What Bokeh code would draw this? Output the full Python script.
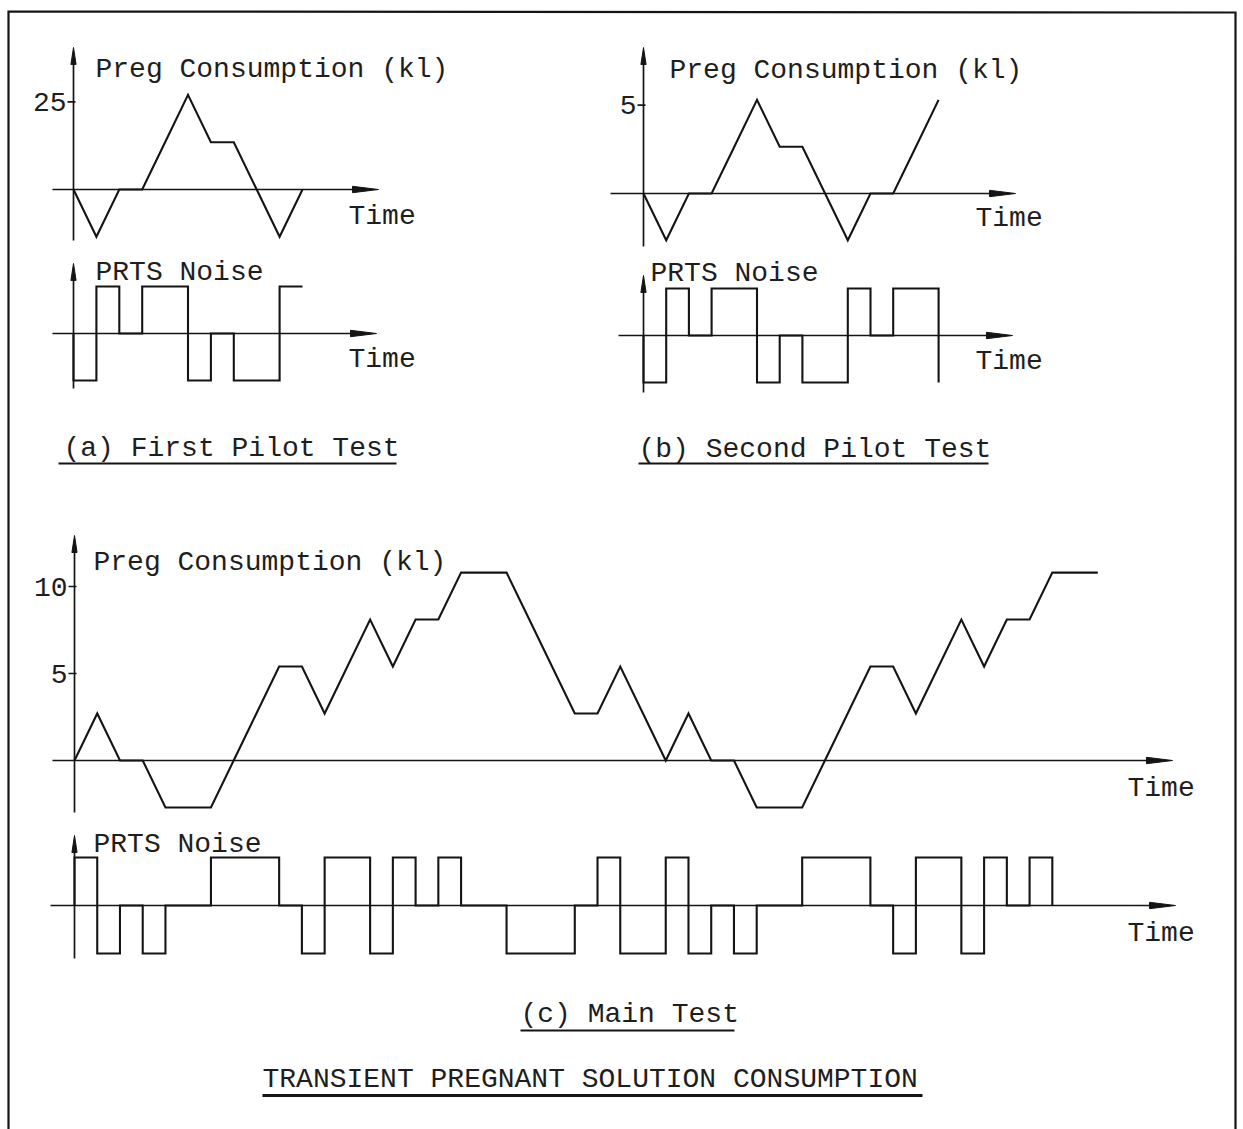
from bokeh.plotting import figure
from bokeh.models import Range1d
from bokeh.core.properties import value
from bokeh.embed import file_html
from bokeh.resources import INLINE

# ---------------------------------------------------------------------------
# Test signals: PRTS noise levels per bit and the resulting pregnant solution
# consumption (kl) at each bit boundary.
# ---------------------------------------------------------------------------

# (a) First pilot test
a_prts = [-1, 1, 0, 1, 1, -1, 0, -1, -1, 1]
a_preg = [0, -13.5, 0, 0, 13.5, 27, 13.5, 13.5, 0, -13.5, 0]
a_ticks = [25]

# (b) Second pilot test (the 14th bit is only begun: its falling edge is shown)
b_prts = [-1, 1, 0, 1, 1, -1, 0, -1, -1, 1, 0, 1, 1, -1]
b_bits_shown = 13
b_preg = [0, -2.65, 0, 0, 2.65, 5.3, 2.65, 2.65, 0, -2.65, 0, 0, 2.65, 5.3]
b_ticks = [5]

# (c) Main test
c_prts = [1, -1, 0, -1, 0, 0, 1, 1, 1, 0, -1, 1, 1,
          -1, 1, 0, 1, 0, 0, -1, -1, -1, 0, 1, -1, -1,
          1, -1, 0, -1, 0, 0, 1, 1, 1, 0, -1, 1, 1, -1, 1, 0, 1, 0]
c_bits_shown = 43
c_preg = [0, 2.7, 0, 0, -2.7, -2.7, -2.7, 0, 2.7, 5.4, 5.4, 2.7, 5.4, 8.1,
          5.4, 8.1, 8.1, 10.8, 10.8, 10.8, 8.1, 5.4, 2.7, 2.7, 5.4, 2.7, 0,
          2.7, 0, 0, -2.7, -2.7, -2.7, 0, 2.7, 5.4, 5.4, 2.7, 5.4, 8.1, 5.4,
          8.1, 8.1, 10.8, 10.8, 10.8]
c_ticks = [5, 10]

# ---------------------------------------------------------------------------
W, H = 1243, 1129
FONT = value("Liberation Mono")
FSIZE = "28px"
INK = "#141414"
TXT = "#1e1e1e"

p = figure(width=W, height=H, x_range=Range1d(0, W), y_range=Range1d(H, 0),
           x_axis_type=None, y_axis_type=None, output_backend="svg",
           toolbar_location=None, min_border=0)
p.grid.visible = False
p.outline_line_color = None
p.background_fill_color = "white"
p.border_fill_color = "white"

xr, yr = {}, {}


def panel(name, ox, oy, sx, sy):
    """Register ranges so that (0, 0) of the panel lands at page pixel (ox, oy),
    with sx pixels per bit and sy pixels per unit upward."""
    xr[name] = Range1d(-ox / sx, (W - ox) / sx)
    yr[name] = Range1d(-(H - oy) / sy, oy / sy)
    return dict(x_range_name=name, y_range_name=name)


def axes(ox, oy, x_lo, x_hi, y_lo, y_hi):
    # time axis with a dart-shaped head
    p.line([x_lo, x_hi - 18], [oy, oy], line_width=1.7, color=INK)
    p.patch([x_hi, x_hi - 26, x_hi - 26], [oy, oy - 3.2, oy + 3.2],
            color=INK, line_width=1)
    # value axis with a slim head
    p.line([ox, ox], [y_lo, y_hi + 10], line_width=1.7, color=INK)
    p.patch([ox, ox - 2.6, ox + 2.6], [y_hi, y_hi + 17, y_hi + 17],
            color=INK, line_width=1)


def step_path(levels, shown):
    xs, ys = [0], [0]
    for i, lv in enumerate(levels[:shown]):
        xs += [i, i + 1]
        ys += [lv, lv]
    if len(levels) > shown:
        xs.append(shown)
        ys.append(levels[shown])
    return xs, ys


def ticks(rng, tick_vals, sx):
    p.segment(x0=[-6 / sx] * len(tick_vals), x1=[2 / sx] * len(tick_vals),
              y0=tick_vals, y1=tick_vals, line_width=1.7, color=INK, **rng)
    p.text(x=[0] * len(tick_vals), y=tick_vals, text=[str(t) for t in tick_vals],
           x_offset=-7, text_align="right", text_baseline="middle",
           text_font=FONT, text_font_size=FSIZE, text_color=TXT, **rng)


def label(x, y, s, align="left", size=FSIZE):
    # y is the wanted baseline in page pixels
    p.text(x=[x], y=[y - 8], text=[s], text_align=align,
           text_baseline="alphabetic", text_font=FONT, text_font_size=size,
           text_color=TXT)


def underline(x0, x1, y, w=2.0):
    p.line([x0, x1], [y, y], line_width=w, color=INK)


LW = 2.1

# ---------------- (a) First pilot test ----------------
bw_a = 22.9
ra_top = panel("a_top", 73, 189, bw_a, 3.504)
axes(73, 189, 52, 378, 240, 47)
p.line(list(range(len(a_preg))), a_preg, line_width=LW, color=INK,
       line_join="miter", **ra_top)
ticks(ra_top, a_ticks, bw_a)
label(95, 77, "Preg Consumption (kl)")
label(348, 224, "Time")

ra_bot = panel("a_bot", 73, 333, bw_a, 47)
axes(73, 333, 52, 376, 388, 263)
xs, ys = step_path(a_prts, len(a_prts))
p.line(xs, ys, line_width=LW, color=INK, line_join="miter", **ra_bot)
label(95, 280, "PRTS Noise")
label(348, 367, "Time")
label(63, 456, "(a) First Pilot Test")
underline(58, 396, 463)

# ---------------- (b) Second pilot test ----------------
bw_b = 22.7
rb_top = panel("b_top", 643, 193, bw_b, 17.66)
axes(643, 193, 610, 1015, 246, 47)
p.line(list(range(len(b_preg))), b_preg, line_width=LW, color=INK,
       line_join="miter", **rb_top)
ticks(rb_top, b_ticks, bw_b)
label(669, 78, "Preg Consumption (kl)")
label(975, 226, "Time")

rb_bot = panel("b_bot", 643, 335, bw_b, 47)
axes(643, 335, 618, 1012, 392, 275)
xs, ys = step_path(b_prts, b_bits_shown)
p.line(xs, ys, line_width=LW, color=INK, line_join="miter", **rb_bot)
label(650, 281, "PRTS Noise")
label(975, 369, "Time")
label(638, 457, "(b) Second Pilot Test")
underline(638, 988, 463)

# ---------------- (c) Main test ----------------
bw_c = 22.74
rc_top = panel("c_top", 74, 760, bw_c, 17.4)
axes(74, 760, 52, 1172, 812, 535)
p.line(list(range(len(c_preg))), c_preg, line_width=LW, color=INK,
       line_join="miter", **rc_top)
ticks(rc_top, c_ticks, bw_c)
label(93, 570, "Preg Consumption (kl)")
label(1127, 796, "Time")

rc_bot = panel("c_bot", 74, 905, bw_c, 48)
axes(74, 905, 50, 1175, 958, 835)
xs, ys = step_path(c_prts, c_bits_shown)
p.line(xs, ys, line_width=LW, color=INK, line_join="miter", **rc_bot)
label(93, 852, "PRTS Noise")
label(1127, 941, "Time")
label(520, 1022, "(c) Main Test")
underline(520, 734, 1030)

label(262, 1087, "TRANSIENT PREGNANT SOLUTION CONSUMPTION")
underline(262, 922, 1095, w=3)

# page frame
p.line([8, 8, 1235, 1235], [H, 11, 12, H], line_width=2.2, color=INK,
       line_join="miter")

p.extra_x_ranges = xr
p.extra_y_ranges = yr

open("out.html", "w").write(file_html(p, INLINE))
